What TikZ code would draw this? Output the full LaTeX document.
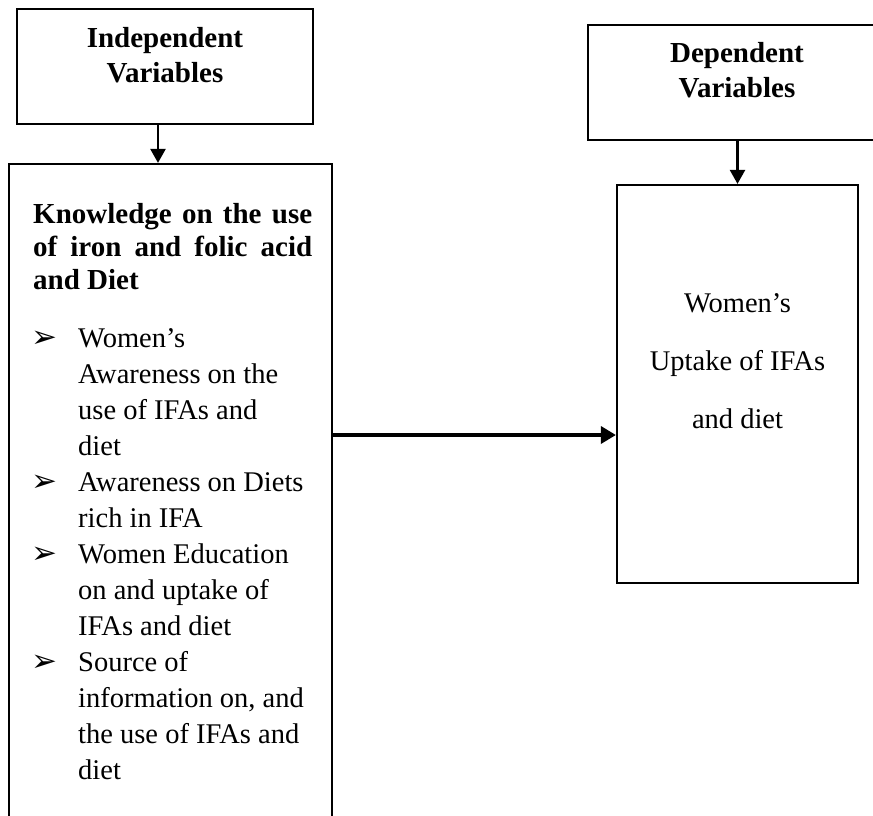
\documentclass[tikz,border=0pt]{standalone}
\usepackage{fontspec}
\setmainfont{Liberation Serif}
\newfontfamily\symfont{DejaVu Sans}
\usepackage{tikz}
\usetikzlibrary{arrows.meta}

\newcommand{\pointer}{{\symfont\fontsize{31}{31}\selectfont ➢}}

\begin{document}
\begin{tikzpicture}[x=1pt, y=-1pt,
		box/.style={draw, line width=2.2pt, inner sep=0pt},
		arr/.style={-{Triangle[length=14pt,width=15pt]}, line width=2.4pt},
		head/.style={font=\fontsize{29}{35}\selectfont\bfseries, inner sep=0pt},
		body/.style={font=\fontsize{28.5}{36}\selectfont, inner sep=0pt}]
		\useasboundingbox (0,0) rectangle (873,816);
		\clip (0,0) rectangle (873,816);

		% boxes
		\node [box, minimum width=296pt, minimum height=115pt] (iv) at (165,66.5){};
		\node [box, minimum width=298pt, minimum height=115pt] (dv) at (737,82.5){};
		\node [box,
			minimum width=323pt,
			minimum height=696pt] (kn) at (170.5,512){};
		\node [box,
			minimum width=241pt,
			minimum height=398pt] (wu) at (737.5,384){};

		% texts
		\node [head, anchor=base] (ivtext) at (165,48)
			{\begin{tabular}[t]{@{}c@{}}Independent\\ Variables\end{tabular}};
		\node [head, anchor=base] (dvtext) at (737,63)
			{\begin{tabular}[t]{@{}c@{}}Dependent\\ Variables\end{tabular}};
		\node [head, font=\fontsize{29}{33}\selectfont\bfseries, anchor=base west] (kntitle) at (33,223)
			{\begin{tabular}[t]{@{}l@{}}
				\makebox[279pt][s]{Knowledge on the use}\\
				\makebox[279pt][s]{of iron and folic acid}\\
				and Diet
			\end{tabular}};
		\node [body, anchor=base west] (knlist) at (31,347)
			{\begin{tabular}[t]{@{}p{47pt}@{}l@{}}
				\pointer & Women’s\\
				& Awareness on the\\
				& use of IFAs and\\
				& diet\\
				\pointer & Awareness on Diets\\
				& rich in IFA\\
				\pointer & Women Education\\
				& on and uptake of\\
				& IFAs and diet\\
				\pointer & Source of\\
				& information on, and\\
				& the use of IFAs and\\
				& diet
			\end{tabular}};
		\node [body, font=\fontsize{28.5}{58}\selectfont, anchor=base] (wutext) at (737.5,312)
			{\begin{tabular}[t]{@{}c@{}}Women’s\\ Uptake of IFAs\\ and diet\end{tabular}};

		% arrows
		\draw[arr] ([xshift=-7pt]iv.south) -- ([xshift=-7pt]iv.south |- kn.north);
		\draw[arr] (wu.north |- dv.south) -- (wu.north);
		\draw[arr, line width=3.4pt, -{Triangle[length=15pt,width=17pt]}] (kn.east |- 0,435) -- (wu.west |- 0,435);
	\end{tikzpicture}
\end{document}
